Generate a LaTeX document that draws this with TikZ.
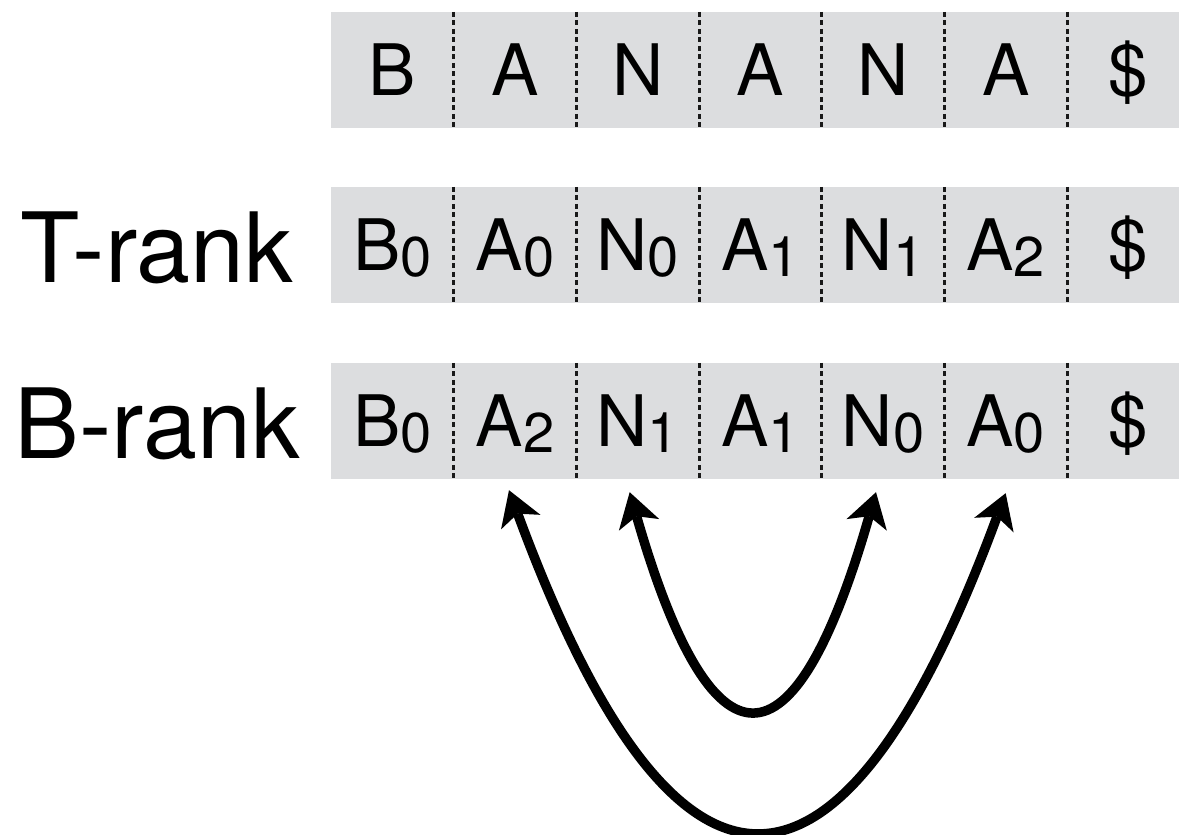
\documentclass[tikz,border=0pt]{standalone}
\usepackage{fontspec}
\setmainfont{TeX Gyre Heros}
\usetikzlibrary{arrows.meta}
\definecolor{cellgrey}{RGB}{220,221,223}
\definecolor{dashink}{RGB}{25,25,25}
\pgfdeclarelayer{bg}
\pgfsetlayers{bg,main}
% letter with a lowered index digit
\newcommand\letsub[2]{#1\raisebox{-6pt}{\fontsize{56}{56}\selectfont #2}}

\begin{document}
\begin{tikzpicture}[x=1pt,y=-1pt,
  cell/.style={minimum width=122.67pt, minimum height=116pt, inner sep=0pt,
    text height=51pt, text depth=0pt, font=\fontsize{71}{71}\selectfont},
  rowlabel/.style={font=\fontsize{97}{97}\selectfont, inner sep=0pt, anchor=base},
  divider/.style={line width=3pt, dash pattern=on 5pt off 3.5pt, draw=dashink},
  swaparrow/.style={line width=9.5pt,
    arrows={Stealth[length=34pt,width=42pt,inset=9pt,line width=0pt]-Stealth[length=34pt,width=42pt,inset=9pt,line width=0pt]}}
]
\clip (0,0) rectangle (1179,835);

% text row
\foreach \t [count=\i] in {B,A,N,A,N,A,\$}
  \node[cell] (a\i) at ({392.33+(\i-1)*122.67}, 70) {\t};

% T-rank row
\foreach \t [count=\i] in {\letsub{B}{0},\letsub{A}{0},\letsub{N}{0},\letsub{A}{1},\letsub{N}{1},\letsub{A}{2},\$}
  \node[cell] (b\i) at ({392.33+(\i-1)*122.67}, 245) {\t};

% B-rank row
\foreach \t [count=\i] in {\letsub{B}{0},\letsub{A}{2},\letsub{N}{1},\letsub{A}{1},\letsub{N}{0},\letsub{A}{0},\$}
  \node[cell] (c\i) at ({392.33+(\i-1)*122.67}, 421) {\t};

\begin{pgfonlayer}{bg}
  \fill[cellgrey] (a1.north west) rectangle (a7.south east);
  \fill[cellgrey] (b1.north west) rectangle (b7.south east);
  \fill[cellgrey] (c1.north west) rectangle (c7.south east);
\end{pgfonlayer}

\foreach \r in {a,b,c}
  \foreach \i in {1,...,6}
    \draw[divider] (\r\i.north east) -- (\r\i.south east);

% row labels
\node[rowlabel] (trank) at (157,282) {T-rank};
\node[rowlabel] (brank) at (157,458) {B-rank};

% swapped pairs
\draw[swaparrow] ([xshift=-6pt,yshift=-11pt]c2.south)
  .. controls (674.7,939.7) and (840.3,940.7) .. ([xshift=0pt,yshift=-14pt]c6.south);
\draw[swaparrow] ([xshift=-8pt,yshift=-13pt]c3.south)
  .. controls (712,778.7) and (794,778.7) .. ([xshift=-7pt,yshift=-13pt]c5.south);
\end{tikzpicture}
\end{document}
